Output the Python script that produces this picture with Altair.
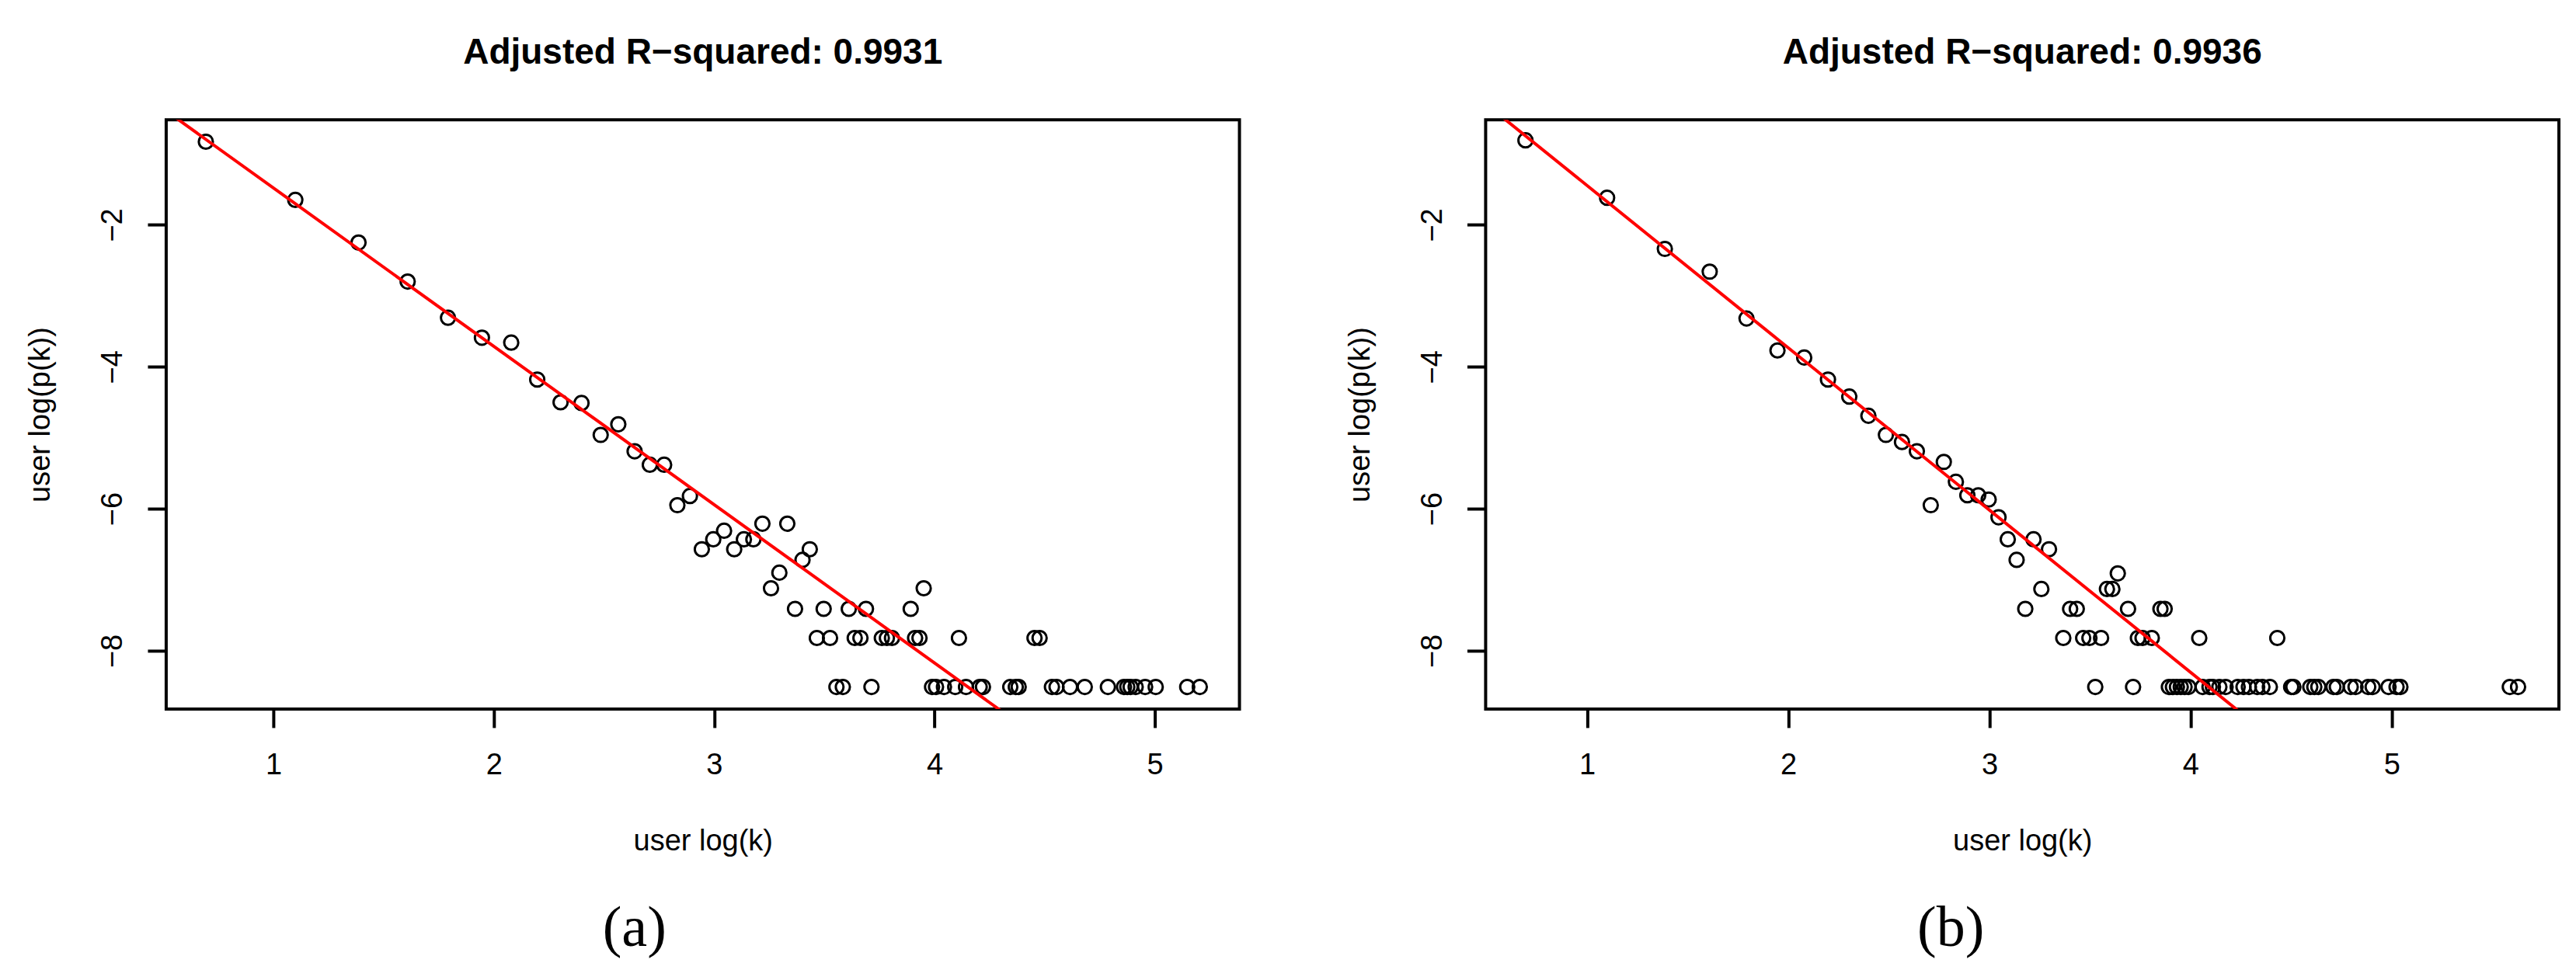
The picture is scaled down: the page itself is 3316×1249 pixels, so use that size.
import altair as alt
import pandas as pd

# ---------------- data ----------------
# Panel (a): x = user log(k), y = user log(p(k))
A_X = [0.693, 1.099, 1.386, 1.609, 1.792, 1.946, 2.079, 2.197, 2.303, 2.398,
       2.485, 2.565, 2.639, 2.708, 2.773, 2.833, 2.890, 2.944, 2.996, 3.045,
       3.091, 3.135, 3.178, 3.219, 3.258, 3.296, 3.332, 3.367, 3.401, 3.434,
       3.466, 3.497, 3.526, 3.555, 3.584, 3.611, 3.638, 3.664, 3.689, 3.714,
       3.761, 3.784, 3.807, 3.892, 3.912, 3.932, 3.951, 3.989, 4.007, 4.043,
       4.094, 4.111, 4.143, 4.205, 4.220, 4.344, 4.369, 4.382, 4.454, 4.477,
       4.533, 4.554, 4.615, 4.682, 4.787, 4.860, 4.875, 4.890, 4.913, 4.956,
       5.004, 5.147, 5.204]
A_Y = [-0.83, -1.65, -2.25, -2.80, -3.31, -3.59, -3.66, -4.18, -4.50, -4.51,
       -4.96, -4.81, -5.19, -5.38, -5.38, -5.95, -5.82, -6.57, -6.43, -6.31,
       -6.57, -6.43, -6.43, -6.21, -7.12, -6.90, -6.21, -7.41, -6.72, -6.57,
       -7.82, -7.41, -7.82, -8.51, -8.51, -7.41, -7.82, -7.82, -7.41, -8.51,
       -7.82, -7.82, -7.82, -7.41, -7.82, -7.82, -7.12, -8.51, -8.51, -8.51,
       -8.51, -7.82, -8.51, -8.51, -8.51, -8.51, -8.51, -8.51, -7.82, -7.82,
       -8.51, -8.51, -8.51, -8.51, -8.51, -8.51, -8.51, -8.51, -8.51, -8.51,
       -8.51, -8.51, -8.51]

# Panel (b)
B_X = [0.693, 1.099, 1.386, 1.609, 1.792, 1.946, 2.079, 2.197, 2.303, 2.398,
       2.485, 2.565, 2.639, 2.708, 2.773, 2.833, 2.890, 2.944, 2.996, 3.045,
       3.091, 3.135, 3.178, 3.219, 3.258, 3.296, 3.367, 3.401, 3.434, 3.466,
       3.497, 3.526, 3.555, 3.584, 3.611, 3.638, 3.689, 3.714, 3.738, 3.761,
       3.807, 3.850, 3.871, 4.043, 4.431,
       3.892, 3.912, 3.932, 3.951, 3.970, 3.989, 4.060, 4.094, 4.111, 4.143,
       4.174, 4.234, 4.263, 4.290, 4.331, 4.357, 4.394, 4.500, 4.511, 4.595,
       4.615, 4.635, 4.710, 4.727, 4.796, 4.820, 4.883, 4.905, 4.984, 5.024,
       5.043, 5.587, 5.628]
B_Y = [-0.81, -1.62, -2.34, -2.66, -3.32, -3.77, -3.87, -4.18, -4.42, -4.69,
       -4.96, -5.06, -5.19, -5.95, -5.34, -5.62, -5.81, -5.81, -5.87, -6.12,
       -6.43, -6.72, -7.41, -6.43, -7.13, -6.57, -7.82, -7.41, -7.41, -7.82,
       -7.82, -8.51, -7.82, -7.13, -7.13, -6.91, -7.41, -8.51, -7.82, -7.82,
       -7.82, -7.41, -7.41, -7.82, -7.82,
       -8.51, -8.51, -8.51, -8.51, -8.51, -8.51, -8.51, -8.51, -8.51, -8.51,
       -8.51, -8.51, -8.51, -8.51, -8.51, -8.51, -8.51, -8.51, -8.51, -8.51,
       -8.51, -8.51, -8.51, -8.51, -8.51, -8.51, -8.51, -8.51, -8.51, -8.51,
       -8.51, -8.51, -8.51]

# fitted lines (intercept, slope)
A_FIT = (0.748, -2.230)
B_FIT = (0.836, -2.285)

A_XDOM = [0.513, 5.384]
B_XDOM = [0.495, 5.831]
Y_DOM = [-8.82, -0.52]

X_TICKS = [1, 2, 3, 4, 5]
Y_TICKS = [-8, -6, -4, -2]

TITLES = ["Adjusted R\u2212squared: 0.9931", "Adjusted R\u2212squared: 0.9936"]
LABELS = ["(a)", "(b)"]
X_TITLE = "user log(k)"
Y_TITLE = "user log(p(k))"

W, H = 1382, 759
FONT = "Liberation Sans"
BASE = 38


def panel(xs, ys, fit, xdom, title, label, label_x):
    df = pd.DataFrame({"x": xs, "y": ys})
    line_df = pd.DataFrame({"x": xdom, "y": [fit[0] + fit[1] * v for v in xdom]})
    xscale = alt.Scale(domain=xdom, nice=False, zero=False)
    yscale = alt.Scale(domain=Y_DOM, nice=False, zero=False)
    xaxis = alt.Axis(values=X_TICKS, title=X_TITLE, format="d", domain=False, grid=False,
                     ticks=True, tickSize=24, tickWidth=4, tickColor="black",
                     labelFont=FONT, labelFontSize=BASE, labelColor="black",
                     labelBaseline="alphabetic", labelPadding=60,
                     labelOverlap=False, labelFlush=False,
                     titleFont=FONT, titleFontSize=BASE, titleFontWeight="normal",
                     titleColor="black", titleX=W / 2, titleY=182,
                     titleBaseline="alphabetic", titleAlign="center")
    yaxis = alt.Axis(values=Y_TICKS, title=Y_TITLE, format="d", domain=False, grid=False,
                     ticks=True, tickSize=24, tickWidth=4, tickColor="black",
                     labelFont=FONT, labelFontSize=BASE, labelColor="black",
                     labelAngle=270, labelAlign="center", labelBaseline="alphabetic",
                     labelPadding=33, labelOverlap=False, labelFlush=False,
                     titleFont=FONT, titleFontSize=BASE, titleFontWeight="normal",
                     titleColor="black", titleAngle=270, titleX=-150, titleY=H / 2,
                     titleBaseline="alphabetic", titleAlign="center")
    pts = alt.Chart(df).mark_point(
        shape="circle", filled=False, color="black", size=330,
        strokeWidth=3, opacity=1
    ).encode(
        x=alt.X("x:Q", scale=xscale, axis=xaxis),
        y=alt.Y("y:Q", scale=yscale, axis=yaxis),
    )
    line = alt.Chart(line_df).mark_line(color="#ff0000", strokeWidth=4, clip=True).encode(
        x="x:Q", y="y:Q"
    )
    ttl = alt.Chart(pd.DataFrame({"t": [title]})).mark_text(
        font=FONT, fontSize=46, fontWeight="bold", baseline="alphabetic",
        align="center", color="black"
    ).encode(text="t:N", x=alt.value(W / 2), y=alt.value(-72))
    lab = alt.Chart(pd.DataFrame({"t": [label]})).mark_text(
        font="Liberation Serif", fontSize=74, baseline="alphabetic",
        align="center", color="black"
    ).encode(text="t:N", x=alt.value(label_x), y=alt.value(1064))
    return alt.layer(pts, line, ttl, lab).properties(width=W, height=H)


pa = panel(A_X, A_Y, A_FIT, A_XDOM, TITLES[0], LABELS[0], 603)
pb = panel(B_X, B_Y, B_FIT, B_XDOM, TITLES[1], LABELS[1], 599)

chart = alt.hconcat(pa, pb, spacing=317, bounds="flush").properties(
    padding={"left": 24, "top": 35, "right": 12, "bottom": 8},
    background="white",
).configure_view(stroke="black", strokeWidth=4)

chart.save("out.html", embed_options={"renderer": "svg", "actions": False})
